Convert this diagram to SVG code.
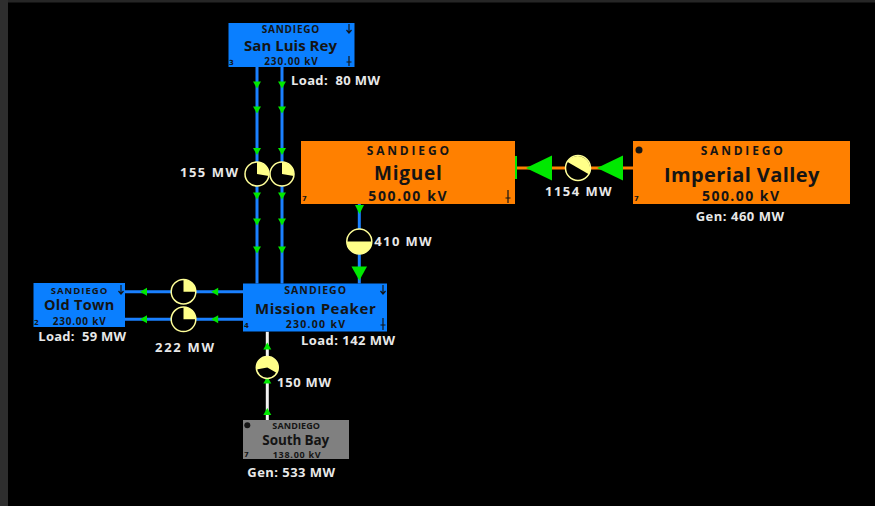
<svg xmlns="http://www.w3.org/2000/svg" xmlns:xlink="http://www.w3.org/1999/xlink" width="875" height="506" viewBox="0 0 875 506">
<style>
.t{font-family:"Open Sans","DejaVu Sans",sans-serif;font-weight:700;fill:#141414}
.lbl{font-family:"Open Sans","DejaVu Sans",sans-serif;font-weight:700;fill:#e8e8e8;font-size:13px}
.num{font-family:"DejaVu Sans",sans-serif;font-weight:700;fill:#141414;font-size:7px}
.blue{fill:#0a7fff}
.orange{fill:#ff8000}
.gray{fill:#808080}
.bl{stroke:#1a80ff;stroke-width:3;fill:none}
.wl{stroke:#f2f2f2;stroke-width:3;fill:none}
.ol{stroke:#ff8000;stroke-width:3;fill:none}
.xf{fill:#000;stroke:#ffff99;stroke-width:1.5}
.pie{fill:#ffff88}
.gr{fill:#00e800}
.sym{stroke:#141414;stroke-width:1.2;fill:none}
</style>
<defs>
<path id="aD" d="M-4,-3.5 L4,-3.5 L0,3.5 Z" fill="#00e800"/>
<path id="aU" d="M-4,3.5 L4,3.5 L0,-3.5 Z" fill="#00e800"/>
<path id="aL" d="M3.5,-4 L3.5,4 L-3.5,0 Z" fill="#00e800"/>
</defs>
<rect x="0" y="0" width="875" height="506" fill="#000"/>
<rect x="0" y="0" width="875" height="2.5" fill="#262626"/>
<rect x="0" y="0" width="8" height="506" fill="#2e2e2e"/>

<g id="connectors">
  <line class="bl" x1="257" y1="67" x2="257" y2="283.5"/>
  <line class="bl" x1="282" y1="67" x2="282" y2="283.5"/>
  <use xlink:href="#aD" x="257" y="85"/><use xlink:href="#aD" x="282" y="85"/>
  <use xlink:href="#aD" x="257" y="110"/><use xlink:href="#aD" x="282" y="110"/>
  <use xlink:href="#aD" x="257" y="151.5"/><use xlink:href="#aD" x="282" y="151.5"/>
  <use xlink:href="#aD" x="257" y="196"/><use xlink:href="#aD" x="282" y="196"/>
  <use xlink:href="#aD" x="257" y="222"/><use xlink:href="#aD" x="282" y="222"/>
  <use xlink:href="#aD" x="257" y="250"/><use xlink:href="#aD" x="282" y="250"/>
  <circle class="xf" cx="257" cy="174" r="12"/>
  <path class="pie" d="M257,174 L257,162 A12,12 0 0 1 268.8,176.1 Z"/>
  <circle class="xf" cx="282" cy="174" r="12"/>
  <path class="pie" d="M282,174 L282,162 A12,12 0 0 1 293.8,176.1 Z"/>
  <text class="lbl" x="180" y="177" textLength="58">155 MW</text>

  <line class="ol" x1="517" y1="168" x2="633" y2="168"/>
  <rect x="515" y="156" width="2" height="23" fill="#00e800"/>
  <path class="gr" d="M526,168 L552,155.5 L552,180.5 Z"/>
  <path class="gr" d="M597,168 L623,155.5 L623,180.5 Z"/>
  <circle class="xf" cx="578" cy="168" r="12.5"/>
  <path class="pie" d="M578,168 L567.2,161.75 A12.5,12.5 0 0 1 588.8,174.25 Z"/>
  <text class="lbl" x="545" y="196" textLength="66.7">1154 MW</text>

  <line class="bl" x1="359.3" y1="204" x2="359.3" y2="283.5"/>
  <path class="gr" d="M355,205 L364,205 L359.5,214 Z"/>
  <circle class="xf" cx="359.3" cy="241.5" r="12.5"/>
  <path class="pie" d="M346.8,241.5 A12.5,12.5 0 0 0 371.8,241.5 Z"/>
  <path class="gr" d="M359.3,280.5 L351.5,266.5 L367,266.5 Z"/>
  <text class="lbl" x="374.3" y="245.7" textLength="57.4">410 MW</text>

  <line class="bl" x1="125" y1="291.7" x2="243" y2="291.7"/>
  <line class="bl" x1="125" y1="319.3" x2="243" y2="319.3"/>
  <use xlink:href="#aL" x="143.5" y="291.7"/><use xlink:href="#aL" x="143.5" y="319.3"/>
  <use xlink:href="#aL" x="214.7" y="291.7"/><use xlink:href="#aL" x="214.7" y="319.3"/>
  <circle class="xf" cx="183.5" cy="291.7" r="12.3"/>
  <path class="pie" d="M183.5,291.7 L183.5,279.4 A12.3,12.3 0 0 1 195.8,291.7 Z"/>
  <circle class="xf" cx="183.5" cy="319.3" r="12.3"/>
  <path class="pie" d="M183.5,319.3 L183.5,307 A12.3,12.3 0 0 1 195.8,319.3 Z"/>
  <text class="lbl" x="155" y="351.7" textLength="59">222 MW</text>

  <line class="wl" x1="267.3" y1="331.7" x2="267.3" y2="420"/>
  <use xlink:href="#aU" x="267.3" y="346"/>
  <use xlink:href="#aU" x="267.3" y="380"/>
  <use xlink:href="#aU" x="267.3" y="411.5"/>
  <circle class="xf" cx="267.3" cy="367.5" r="11"/>
  <path class="pie" d="M267.3,367.5 L256.47,369.41 A11,11 0 1 1 276.83,373 Z"/>
  <text class="lbl" x="277" y="387" textLength="54">150 MW</text>
</g>

<g id="node-san-luis-rey">
  <rect class="blue" x="228.5" y="23" width="126" height="44"/>
  <text class="t" x="261.7" y="32.5" font-size="10" textLength="57.6">SANDIEGO</text>
  <text class="t" x="244" y="51" font-size="15" textLength="93">San Luis Rey</text>
  <text class="t" x="264.3" y="65" font-size="10" textLength="53.4">230.00 kV</text>
  <text class="num" x="229" y="65">3</text>
  <path class="sym" d="M349,24 V33 M346.5,30 L349,33 L351.5,30"/>
  <path class="sym" d="M349,56 V66 M346.5,62 H351.5"/>
  <text class="lbl" x="291" y="85" textLength="89" xml:space="preserve">Load:  80 MW</text>
</g>

<g id="node-miguel">
  <rect class="orange" x="301" y="141" width="214" height="63"/>
  <text class="t" x="366.7" y="155" font-size="12" textLength="82.3">SANDIEGO</text>
  <text class="t" x="374" y="180" font-size="19" textLength="67.7">Miguel</text>
  <text class="t" x="368.3" y="200.5" font-size="14" textLength="78.3">500.00 kV</text>
  <text class="num" x="302" y="201" font-size="8">7</text>
  <path class="sym" d="M508,190 V203 M505.5,198 H510.5"/>
</g>

<g id="node-imperial-valley">
  <rect class="orange" x="633" y="141" width="217" height="63"/>
  <circle cx="639" cy="150" r="3.5" fill="#141414"/>
  <text class="t" x="700.7" y="155" font-size="12" textLength="82">SANDIEGO</text>
  <text class="t" x="664" y="181.5" font-size="20" textLength="155.3">Imperial Valley</text>
  <text class="t" x="702" y="201" font-size="14" textLength="77">500.00 kV</text>
  <text class="num" x="634" y="201" font-size="8">7</text>
  <text class="lbl" x="695.7" y="221" textLength="88.3">Gen: 460 MW</text>
</g>

<g id="node-mission-peaker">
  <rect class="blue" x="243" y="283.5" width="144" height="48"/>
  <text class="t" x="284.3" y="294" font-size="10.5" textLength="61.7">SANDIEGO</text>
  <text class="t" x="255" y="314" font-size="15" textLength="120.7">Mission Peaker</text>
  <text class="t" x="285.7" y="328.3" font-size="10.5" textLength="59.3">230.00 kV</text>
  <text class="num" x="244" y="328">4</text>
  <path class="sym" d="M383,285 V294 M380.5,291 L383,294 L385.5,291"/>
  <path class="sym" d="M383,318 V330 M380.5,325 H385.5"/>
  <text class="lbl" x="301" y="345" textLength="94">Load: 142 MW</text>
</g>

<g id="node-old-town">
  <rect class="blue" x="33.5" y="283" width="91.5" height="44"/>
  <text class="t" x="50.7" y="293.5" font-size="9.5" textLength="56.6">SANDIEGO</text>
  <text class="t" x="44" y="310" font-size="14.5" textLength="70.3">Old Town</text>
  <text class="t" x="52.7" y="325" font-size="10" textLength="53">230.00 kV</text>
  <text class="num" x="34" y="325">2</text>
  <path class="sym" d="M121,285 V294 M118.5,291 L121,294 L123.5,291"/>
  <text class="lbl" x="38.3" y="340.7" textLength="87.7" xml:space="preserve">Load:  59 MW</text>
</g>

<g id="node-south-bay">
  <rect class="gray" x="243" y="420" width="106" height="39"/>
  <circle cx="247.3" cy="425.3" r="3" fill="#141414"/>
  <text class="t" x="272.3" y="429" font-size="9" textLength="47.7">SANDIEGO</text>
  <text class="t" x="262.3" y="445" font-size="13.5" textLength="67">South Bay</text>
  <text class="t" x="272.7" y="457.5" font-size="9" textLength="48">138.00 kV</text>
  <text class="num" x="244" y="457" font-size="6">7</text>
  <text class="lbl" x="247.3" y="477" textLength="87.7">Gen: 533 MW</text>
</g>
</svg>
